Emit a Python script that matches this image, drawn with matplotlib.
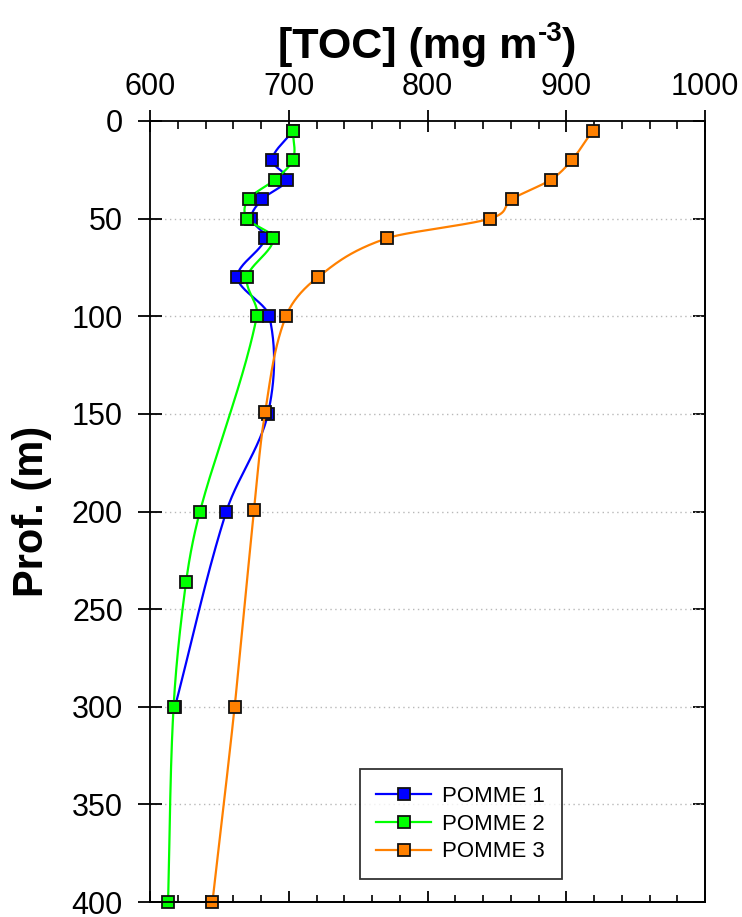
import numpy as np
import matplotlib
matplotlib.use("Agg")
import matplotlib.pyplot as plt
from matplotlib.ticker import MultipleLocator

plt.rcParams['font.family'] = ['Liberation Sans', 'DejaVu Sans']

# ---------------- data ----------------
depth_p1 = [5, 20, 30, 40, 50, 60, 80, 100, 150, 200, 300]
toc_p1 = [703, 688, 699, 681, 673, 683, 663, 686, 685, 655, 618]

depth_p2 = [5, 20, 30, 40, 50, 60, 80, 100, 200, 236, 300, 400]
toc_p2 = [703, 703, 690, 671, 670, 689, 670, 677, 636, 626, 617, 613]

depth_p3 = [5, 20, 30, 40, 50, 60, 80, 100, 149, 199, 300, 400]
toc_p3 = [919, 904, 889, 861, 845, 771, 721, 698, 683, 675, 661, 645]

series_names = ["POMME 1", "POMME 2", "POMME 3"]
series_colors = ["#0000FF", "#00FF00", "#FF8000"]

x_ticks = [600, 700, 800, 900, 1000]
y_ticks = [0, 50, 100, 150, 200, 250, 300, 350, 400]


def smooth_curve(t, v, n_per=40):
    """Catmull-Rom style cubic Hermite smoothing through the data points."""
    t = np.asarray(t, float)
    v = np.asarray(v, float)
    n = len(t)
    m = np.zeros(n)
    m[0] = (v[1] - v[0]) / (t[1] - t[0])
    m[-1] = (v[-1] - v[-2]) / (t[-1] - t[-2])
    for i in range(1, n - 1):
        m[i] = (v[i + 1] - v[i - 1]) / (t[i + 1] - t[i - 1])
    ts, vs = [], []
    for i in range(n - 1):
        h = t[i + 1] - t[i]
        s = np.linspace(0, 1, n_per, endpoint=(i == n - 2))
        h00 = 2 * s ** 3 - 3 * s ** 2 + 1
        h10 = s ** 3 - 2 * s ** 2 + s
        h01 = -2 * s ** 3 + 3 * s ** 2
        h11 = s ** 3 - s ** 2
        vs.append(h00 * v[i] + h10 * h * m[i] + h01 * v[i + 1] + h11 * h * m[i + 1])
        ts.append(t[i] + s * h)
    return np.concatenate(ts), np.concatenate(vs)


fig = plt.figure(figsize=(7.42, 9.17), dpi=100)
ax = fig.add_axes([150 / 742, 1 - 902 / 917, 555 / 742, 781 / 917])

datasets = [(depth_p1, toc_p1), (depth_p2, toc_p2), (depth_p3, toc_p3)]
for k, ((d, v), name, col) in enumerate(zip(datasets, series_names, series_colors)):
    sd, sv = smooth_curve(d, v)
    ax.plot(sv, sd, color=col, lw=1.6, zorder=3 + k, solid_capstyle='round')
    ax.plot(v, d, linestyle='none', marker='s', markersize=8.5,
            markerfacecolor=col, markeredgecolor='#111111', markeredgewidth=1.3,
            zorder=3 + k, clip_on=False)
    # legend proxy
    ax.plot([], [], color=col, lw=1.6, marker='s', markersize=8.5,
            markerfacecolor=col, markeredgecolor='#111111', markeredgewidth=1.3,
            label=name)

ax.set_xlim(600, 1000)
ax.set_ylim(400, 0)

# grid: horizontal dotted only
for yv in y_ticks[1:-1]:
    ax.axhline(yv, color='#b8b8b8', lw=1.0, ls=(0, (1, 2.5)), zorder=1)

for s in ax.spines.values():
    s.set_linewidth(1.3)
    s.set_zorder(10)

ax.xaxis.tick_top()
ax.set_xticks(x_ticks)
ax.set_xticklabels([str(t) for t in x_ticks])
ax.xaxis.set_minor_locator(MultipleLocator(20))
ax.set_yticks(y_ticks)
ax.set_yticklabels([str(t) for t in y_ticks])

ax.tick_params(axis='x', which='major', direction='inout', length=16, width=1.3,
               labelsize=22, pad=6)
ax.tick_params(axis='x', which='minor', direction='in', length=6, width=1.2)
ax.tick_params(axis='y', which='major', direction='inout', length=17, width=1.3,
               labelsize=22, pad=11)

# bottom ticks (inward)
secx = ax.secondary_xaxis('bottom')
secx.set_xticks(x_ticks)
secx.set_xticklabels([])
secx.xaxis.set_minor_locator(MultipleLocator(20))
secx.tick_params(axis='x', which='major', direction='in', length=8, width=1.3)
secx.tick_params(axis='x', which='minor', direction='in', length=5, width=1.2)
secx.spines['bottom'].set_linewidth(1.3)

# right ticks (inward)
secy = ax.secondary_yaxis('right')
secy.set_yticks(y_ticks)
secy.set_yticklabels([])
secy.tick_params(axis='y', which='major', direction='in', length=9, width=1.3)
secy.spines['right'].set_linewidth(1.3)

ax.set_ylabel('Prof. (m)', fontsize=30, fontweight='bold', labelpad=14)

# title "[TOC] (mg m^-3)" composed of pieces so the superscript uses a hyphen
fig.canvas.draw()
renderer = fig.canvas.get_renderer()
title_parts = ["[TOC] (mg m", "-3", ")"]
base_y = 1 - 58 / 917
fs_main, fs_sup = 31, 20
pieces = []
pieces.append(fig.text(0, base_y, title_parts[0], fontsize=fs_main, fontweight='bold',
                       ha='left', va='baseline'))
pieces.append(fig.text(0, base_y + 17 / 917, title_parts[1], fontsize=fs_sup,
                       fontweight='bold', ha='left', va='baseline'))
pieces.append(fig.text(0, base_y, title_parts[2], fontsize=fs_main, fontweight='bold',
                       ha='left', va='baseline'))
widths = [p.get_window_extent(renderer).width for p in pieces]
total = sum(widths)
center_px = (150 + 705) / 2
x0 = center_px - total / 2
for p, w in zip(pieces, widths):
    p.set_x(x0 / 742)
    x0 += w

leg = ax.legend(loc='lower left', bbox_to_anchor=(0.378, 0.0294), borderaxespad=0,
                fontsize=16, frameon=True, fancybox=False, handlelength=2.45,
                handletextpad=0.5, labelspacing=0.3, borderpad=0.75)
leg.get_frame().set_edgecolor('black')
leg.get_frame().set_linewidth(1.3)
leg.set_zorder(20)

fig.savefig('out.png', dpi=100)
